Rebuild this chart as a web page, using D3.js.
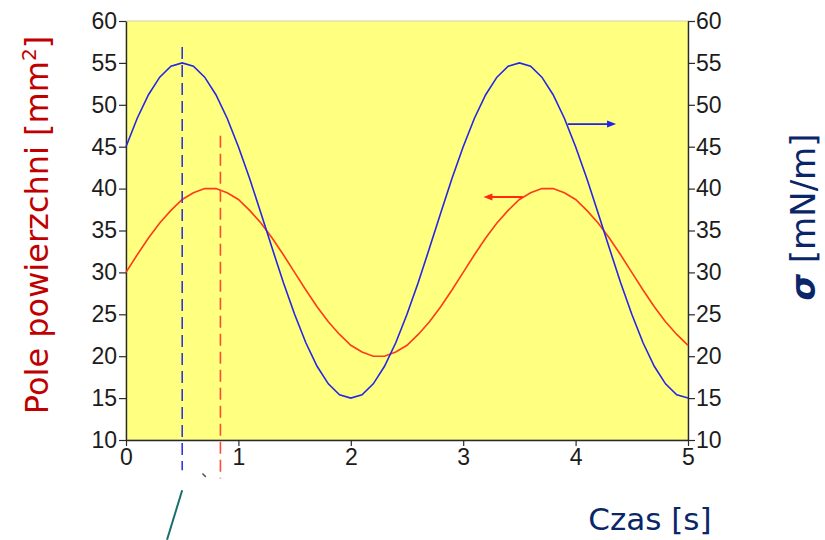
<!DOCTYPE html>
<html>
<head>
<meta charset="utf-8">
<script src="https://cdn.jsdelivr.net/npm/d3@7"></script>
<style>
  html, body { margin: 0; padding: 0; background: #ffffff; }
  svg { display: block; }
</style>
</head>
<body>
<svg id="chart" width="825" height="540"></svg>
<script>
// Time axis samples [s]
const time = [
  0.0, 0.1, 0.2, 0.3, 0.4, 0.5, 0.6, 0.7, 0.8, 0.9,
  1.0, 1.1, 1.2, 1.3, 1.4, 1.5, 1.6, 1.7, 1.8, 1.9,
  2.0, 2.1, 2.2, 2.3, 2.4, 2.5, 2.6, 2.7, 2.8, 2.9,
  3.0, 3.1, 3.2, 3.3, 3.4, 3.5, 3.6, 3.7, 3.8, 3.9,
  4.0, 4.1, 4.2, 4.3, 4.4, 4.5, 4.6, 4.7, 4.8, 4.9, 5.0
];

// Surface tension sigma [mN/m] (right axis)
const sigma = [
  45.0, 48.4, 51.2, 53.3, 54.6, 55.0, 54.6, 53.3, 51.2, 48.4,
  45.0, 41.2, 37.1, 32.9, 28.8, 25.0, 21.6, 18.8, 16.7, 15.4,
  15.0, 15.4, 16.7, 18.8, 21.6, 25.0, 28.8, 32.9, 37.1, 41.2,
  45.0, 48.4, 51.2, 53.3, 54.6, 55.0, 54.6, 53.3, 51.2, 48.4,
  45.0, 41.2, 37.1, 32.9, 28.8, 25.0, 21.6, 18.8, 16.7, 15.4, 15.0
];

// Surface area [mm^2] (left axis)
const area = [
  30.0, 32.1, 34.1, 35.9, 37.4, 38.7, 39.5, 40.0, 40.0, 39.5,
  38.7, 37.4, 35.9, 34.1, 32.1, 30.0, 27.9, 25.9, 24.1, 22.6,
  21.3, 20.5, 20.0, 20.0, 20.5, 21.3, 22.6, 24.1, 25.9, 27.9,
  30.0, 32.1, 34.1, 35.9, 37.4, 38.7, 39.5, 40.0, 40.0, 39.5,
  38.7, 37.4, 35.9, 34.1, 32.1, 30.0, 27.9, 25.9, 24.1, 22.6, 21.3
];

const xTicks = [0, 1, 2, 3, 4, 5];
const yTicks = [10, 15, 20, 25, 30, 35, 40, 45, 50, 55, 60];

// Phase markers: time of sigma maximum and of area marker, with their vertical extent
const sigmaMarker = { t: 0.5, from: 6.4, to: 56.9 };
const areaMarker = { t: 0.84, from: 5.4, to: 46.3 };

// Arrows pointing each curve to its axis: [t0, t1, value]
const sigmaArrow = [3.93, 4.36, 47.7];
const areaArrow = [3.53, 3.18, 39.0];

// Pointer line below the axis: [[t, value], [t, value]]
const pointer = [[0.365, -1.9], [0.5, 4.0]];
const strayMark = [[0.68, 6.0], [0.71, 5.6]];

const svg = d3.select("#chart");
const plotL = 126, plotR = 688, plotT = 21, plotB = 440;

const x = d3.scaleLinear().domain([0, 5]).range([plotL, plotR]);
const y = d3.scaleLinear().domain([10, 60]).range([plotB, plotT]);

// Plot background
svg.append("rect")
  .attr("x", plotL).attr("y", plotT)
  .attr("width", plotR - plotL).attr("height", plotB - plotT)
  .attr("fill", "#ffff80")
  .attr("stroke", "#c8c8a0").attr("stroke-width", 0.8);

const tickFont = "'Liberation Sans', Arial, sans-serif";
const axisColor = "#2a2a2a";

function styleAxis(g) {
  g.selectAll(".domain").attr("stroke", axisColor).attr("stroke-width", 1.4);
  g.selectAll(".tick line").attr("stroke", axisColor).attr("stroke-width", 1.2);
  g.selectAll(".tick text")
    .attr("fill", "#1c1c1c")
    .style("font-family", tickFont)
    .style("font-size", "23px");
}

svg.append("g")
  .attr("transform", `translate(${plotL},0)`)
  .call(d3.axisLeft(y).tickValues(yTicks).tickSize(7).tickSizeOuter(0).tickPadding(2))
  .call(styleAxis);

svg.append("g")
  .attr("transform", `translate(${plotR},0)`)
  .call(d3.axisRight(y).tickValues(yTicks).tickSize(7).tickSizeOuter(0).tickPadding(1))
  .call(styleAxis);

svg.append("g")
  .attr("transform", `translate(0,${plotB})`)
  .call(d3.axisBottom(x).tickValues(xTicks).tickSize(6).tickSizeOuter(0).tickPadding(3)
    .tickFormat(d3.format("d")))
  .call(styleAxis);

// Curves
const line = d3.line().x((d, i) => x(time[i])).y(d => y(d));

svg.append("path")
  .datum(area)
  .attr("d", line)
  .attr("fill", "none")
  .attr("stroke", "#ff3a1a")
  .attr("stroke-width", 1.6);

svg.append("path")
  .datum(sigma)
  .attr("d", line)
  .attr("fill", "none")
  .attr("stroke", "#2626e6")
  .attr("stroke-width", 1.6);

// Dashed phase markers
function marker(m, color) {
  svg.append("line")
    .attr("x1", x(m.t)).attr("x2", x(m.t))
    .attr("y1", y(m.to)).attr("y2", y(m.from))
    .attr("stroke", color)
    .attr("stroke-width", 1.6)
    .attr("stroke-dasharray", "12,6");
}
marker(sigmaMarker, "#3535e0");
marker(areaMarker, "#ff4a3a");

// Arrows
function arrow(a, color) {
  const x0 = x(a[0]), x1 = x(a[1]), yy = y(a[2]);
  const dir = Math.sign(x1 - x0);
  svg.append("line")
    .attr("x1", x0).attr("x2", x1 - dir * 6)
    .attr("y1", yy).attr("y2", yy)
    .attr("stroke", color).attr("stroke-width", 1.8);
  svg.append("path")
    .attr("d", `M${x1},${yy} L${x1 - dir * 9},${yy - 3.5} L${x1 - dir * 9},${yy + 3.5} Z`)
    .attr("fill", color);
}
arrow(sigmaArrow, "#2020f0");
arrow(areaArrow, "#ff2a10");

// Pointer line and small mark under the axis
svg.append("line")
  .attr("x1", x(pointer[0][0])).attr("y1", y(pointer[0][1]))
  .attr("x2", x(pointer[1][0])).attr("y2", y(pointer[1][1]))
  .attr("stroke", "#1a6e6e").attr("stroke-width", 2);
svg.append("line")
  .attr("x1", x(strayMark[0][0])).attr("y1", y(strayMark[0][1]))
  .attr("x2", x(strayMark[1][0])).attr("y2", y(strayMark[1][1]))
  .attr("stroke", "#555").attr("stroke-width", 1.5);

// Axis titles
const titleFont = "'DejaVu Sans', Verdana, sans-serif";

const lt = svg.append("text")
  .attr("transform", "translate(48,225) rotate(-90)")
  .attr("text-anchor", "middle")
  .attr("fill", "#c00000")
  .style("font-family", titleFont)
  .style("font-size", "32px");
lt.append("tspan").text("Pole powierzchni [mm");
lt.append("tspan").attr("dy", -12).style("font-size", "20px").text("2");
lt.append("tspan").attr("dy", 12).text("]");

const rt = svg.append("text")
  .attr("transform", "translate(815,217) rotate(-90)")
  .attr("text-anchor", "middle")
  .attr("fill", "#0a2668")
  .style("font-family", titleFont)
  .style("font-size", "34px");
rt.append("tspan").style("font-weight", "bold").style("font-style", "italic").text("σ");
rt.append("tspan").text(" [mN/m]");

svg.append("text")
  .attr("x", 650).attr("y", 530)
  .attr("text-anchor", "middle")
  .attr("fill", "#0a2668")
  .style("font-family", titleFont)
  .style("font-size", "31px")
  .text("Czas [s]");
</script>
</body>
</html>
